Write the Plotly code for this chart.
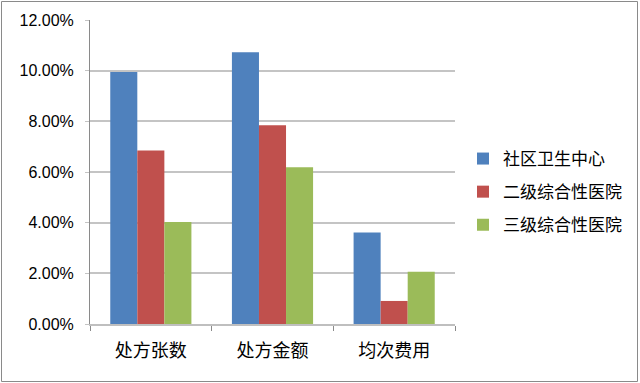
import plotly.graph_objects as go

categories = ["处方张数", "处方金额", "均次费用"]
series_names = ["社区卫生中心", "二级综合性医院", "三级综合性医院"]
community = [0.0995, 0.1073, 0.0361]
secondary = [0.0685, 0.0785, 0.0091]
tertiary = [0.0403, 0.0619, 0.0206]
colors = ["#4F81BD", "#C0504D", "#9BBB59"]
y_ticks = [0, 0.02, 0.04, 0.06, 0.08, 0.10, 0.12]

fig = go.Figure()
for i, (name, vals) in enumerate(zip(series_names, [community, secondary, tertiary])):
    fig.add_trace(go.Bar(x=categories, y=vals, name=name, marker_color=colors[i],
                         marker_line_width=0, legendgroup=name))

W, H = 640, 383
ml, mr, mt, mb = 90, 185, 20, 59
pw, ph = W - ml - mr, H - mt - mb

fig.update_layout(
    width=W, height=H,
    margin=dict(l=ml, r=mr, t=mt, b=mb),
    paper_bgcolor="white", plot_bgcolor="white",
    barmode="group", bargap=0.333, bargroupgap=0,
    font=dict(family="Liberation Sans, Arial, sans-serif", color="#000"),
    legend=dict(x=(463 - ml) / pw, y=(H - mb - 141) / ph, xanchor="left", yanchor="top",
                font=dict(family="Noto Sans CJK SC", size=17, color="#000"),
                tracegroupgap=8, traceorder="grouped", itemwidth=30),
    shapes=[dict(type="rect", xref="paper", yref="paper",
                 x0=(1.5 - ml) / pw, x1=(637.5 - ml) / pw,
                 y0=-(381.5 - (H - mb)) / ph, y1=1 + (mt - 1.5) / ph,
                 line=dict(color="#8a8a8a", width=1), layer="below")],
)
fig.update_yaxes(range=[0, 0.12], tickvals=y_ticks, tickformat=".2%",
                 showgrid=True, gridcolor="#c4c4c4", gridwidth=1.5,
                 showline=True, linecolor="#8a8a8a", ticks="outside", ticklen=4,
                 tickcolor="#c4c4c4", tickfont=dict(size=16), zeroline=False,
                 ticklabelstandoff=8)
fig.update_xaxes(showline=True, linecolor="#bfbfbf", linewidth=1.5, ticks="outside", ticklen=5,
                 tickcolor="#8a8a8a", tickson="boundaries",
                 tickfont=dict(family="Noto Sans CJK SC", size=18),
                 ticklabelstandoff=10)
fig.write_html("out.html", config={"displayModeBar": False},
               post_script="document.body.style.margin='0';document.body.style.overflow='hidden';")
